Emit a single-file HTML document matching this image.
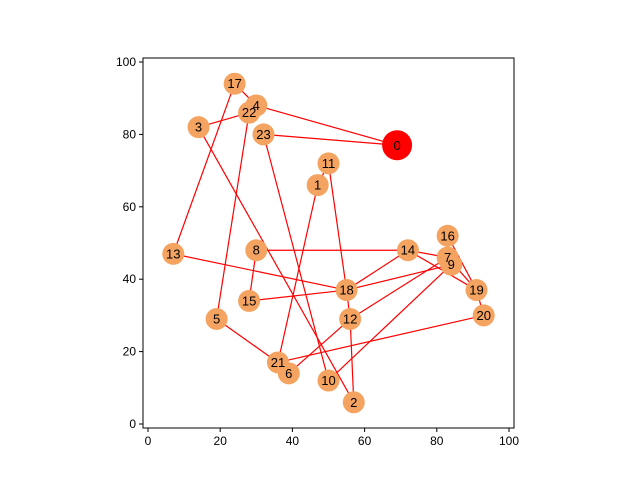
<!DOCTYPE html>
<html><head><meta charset="utf-8"><style>body{margin:0;background:#fff}svg{display:block;font-family:"Liberation Sans","DejaVu Sans",sans-serif}</style></head>
<body>
<svg id="chart" width="640" height="480"></svg>
<script>
const nodeIds=[0,1,2,3,4,5,6,7,8,9,10,11,12,13,14,15,16,17,18,19,20,21,22,23];
const nodeX=[69,47,57,14,30,19,39,83,30,84,50,50,56,7,72,28,83,24,55,91,93,36,28,32];
const nodeY=[77,66,6,82,88,29,14,46,48,44,12,72,29,47,48,34,52,94,37,37,30,17,86,80];
const edges=[[0,23],[0,4],[23,10],[3,22],[3,2],[17,4],[17,13],[22,5],[1,21],[1,11],[11,18],[13,18],[8,14],[8,15],[15,18],[18,9],[14,18],[14,7],[12,18],[12,2],[6,12],[12,7],[5,21],[21,20],[10,9],[16,19],[7,19],[19,20],[14,19]];
const xTicks=[0,20,40,60,80,100], yTicks=[0,20,40,60,80,100];
const NS="http://www.w3.org/2000/svg", svg=document.getElementById('chart');
const L=143,R=514,T=58,B=428;
const sx=v=>148+v*3.61, sy=v=>424-v*3.62;
function mk(t,a,p){const e=document.createElementNS(NS,t);for(const k in a)e.setAttribute(k,a[k]);(p||svg).appendChild(e);return e;}
const frame=mk('rect',{x:L,y:T,width:R-L,height:B-T,fill:'none',stroke:'#000','stroke-width':1});


xTicks.forEach(v=>{const g=mk('g',{});


mk('line',{x1:sx(v),x2:sx(v),y1:B,y2:B+4,stroke:'#000'},g);
const t=mk('text',{x:sx(v),y:B+17,'text-anchor':'middle','font-size':12},g);t.textContent=v;});
yTicks.forEach(v=>{const g=mk('g',{});


mk('line',{x1:L-4,x2:L,y1:sy(v),y2:sy(v),stroke:'#000'},g);
const t=mk('text',{x:L-7,y:sy(v)+4,'text-anchor':'end','font-size':12},g);t.textContent=v;});
edges.forEach(([a,b])=>{const e=mk('line',{x1:sx(nodeX[a]),y1:sy(nodeY[a]),x2:sx(nodeX[b]),y2:sy(nodeY[b]),stroke:'#f00','stroke-width':1.2});

});
nodeIds.forEach((id,i)=>{const c=mk('circle',{cx:sx(nodeX[i]),cy:sy(nodeY[i]),r:id===0?15:11,fill:id===0?'#ff0000':'#f4a460'});

});
nodeIds.forEach((id,i)=>{const t=mk('text',{x:sx(nodeX[i]),y:sy(nodeY[i])+4.5,'text-anchor':'middle','font-size':13});


t.textContent=id;});
</script>
</body></html>
